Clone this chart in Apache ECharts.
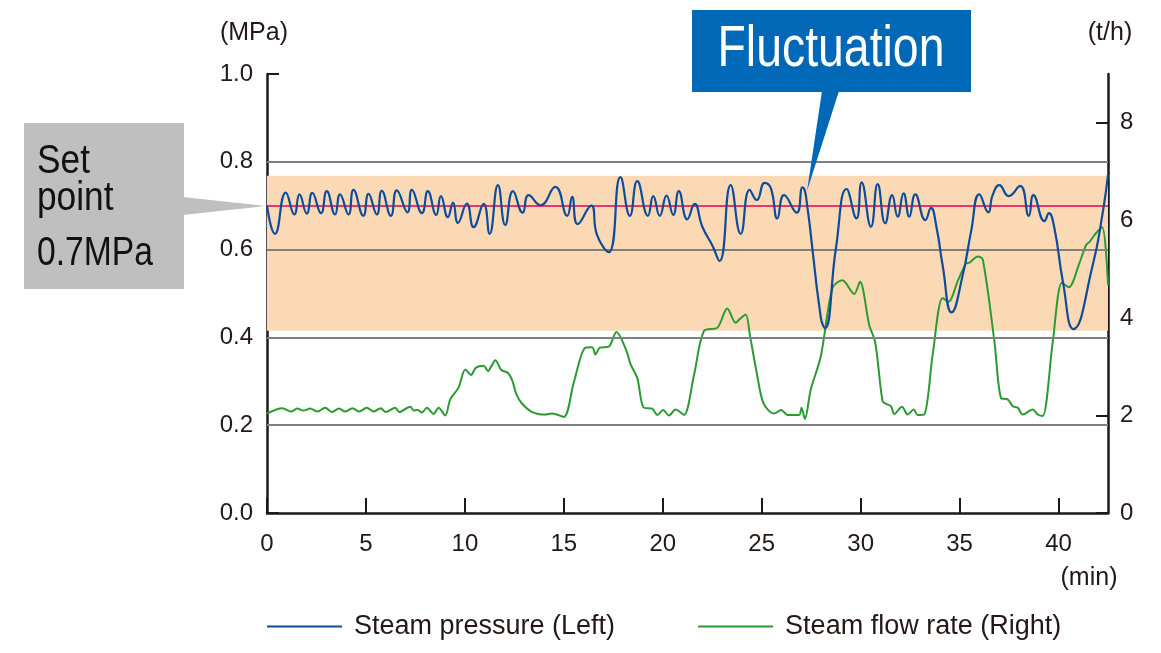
<!DOCTYPE html>
<html>
<head>
<meta charset="utf-8">
<script src="https://cdn.jsdelivr.net/npm/echarts@6/dist/echarts.min.js"></script>
<style>
  html, body { margin: 0; padding: 0; background: #ffffff; }
  #chart { width: 1161px; height: 653px; }
</style>
</head>
<body>
<div id="chart"></div>
<script>
// ---- Data ----
// Steam pressure (MPa, left axis): time (min) and value
const pressureTime = [0,0.40,0.95,1.38,1.64,2.01,2.29,2.73,3.02,3.44,3.69,4.12,4.37,4.87,5.13,5.55,5.80,6.26,6.56,7.10,7.32,7.83,8.13,8.55,8.79,9.14,9.40,9.65,10.10,10.44,10.95,11.25,11.67,12.04,12.43,12.92,13.22,13.82,14.57,15.17,15.42,15.70,16.38,16.68,17.27,17.86,18.34,18.71,19.25,19.52,19.85,20.19,20.53,20.81,21.24,21.61,22.00,22.50,22.87,23.43,23.94,24.39,24.75,25.15,25.46,25.79,26.13,26.77,27.06,27.23,27.99,28.20,28.75,29.29,29.79,30.05,30.52,30.86,31.24,31.59,31.87,32.17,32.46,32.76,33.27,33.55,33.84,34.14,34.60,35.16,35.58,36.00,36.45,36.67,37.01,37.48,38.06,38.50,38.73,39.29,39.51,39.79,40.22,40.75,41.73,42.24,42.50];
const pressureValue = [0.700,0.636,0.730,0.680,0.726,0.682,0.729,0.683,0.733,0.680,0.726,0.680,0.736,0.677,0.727,0.680,0.734,0.677,0.735,0.685,0.736,0.683,0.733,0.679,0.722,0.674,0.707,0.661,0.705,0.651,0.704,0.636,0.747,0.656,0.733,0.684,0.724,0.701,0.743,0.677,0.720,0.658,0.700,0.633,0.594,0.765,0.677,0.756,0.677,0.722,0.677,0.723,0.679,0.733,0.669,0.704,0.652,0.610,0.574,0.747,0.636,0.736,0.713,0.752,0.740,0.671,0.724,0.684,0.742,0.724,0.444,0.421,0.603,0.738,0.671,0.753,0.652,0.749,0.660,0.724,0.675,0.728,0.675,0.726,0.667,0.695,0.649,0.565,0.457,0.542,0.641,0.726,0.685,0.724,0.747,0.722,0.745,0.677,0.724,0.665,0.683,0.649,0.527,0.419,0.565,0.686,0.770];

// Steam flow rate (t/h, right axis): time (min) and value
const flowTime = [0,0.78,1.21,1.53,1.84,2.18,2.56,2.94,3.27,3.64,3.95,4.32,4.66,5.04,5.38,5.75,6.00,6.48,6.68,7.24,7.41,7.62,7.83,8.08,8.42,8.67,9.01,9.26,9.68,10.02,10.31,10.56,10.95,11.17,11.34,11.54,11.84,12.18,12.41,12.58,12.85,13.40,14.07,14.41,15.00,15.50,16.09,16.43,16.60,16.82,17.27,17.66,18.17,18.37,18.71,19.04,19.47,19.72,20.02,20.31,20.65,21.07,21.57,22.08,22.76,23.26,23.68,23.90,24.19,24.41,24.75,25.09,25.62,25.99,26.30,26.89,27.01,27.18,27.48,27.99,28.58,29.08,29.67,29.97,30.43,30.74,31.11,31.31,31.53,31.70,32.09,32.37,32.68,32.88,33.21,33.64,34.14,34.45,34.90,35.32,35.49,35.92,36.17,36.76,37.09,37.43,37.69,37.94,38.19,38.70,38.95,39.20,39.71,40.17,40.52,41.06,41.40,41.57,41.90,42.21,42.50];
const flowValue = [2.04,2.15,2.08,2.14,2.10,2.14,2.08,2.16,2.07,2.14,2.08,2.15,2.08,2.16,2.08,2.15,2.07,2.16,2.07,2.18,2.10,2.11,2.06,2.16,2.03,2.16,2.00,2.33,2.57,2.94,2.83,2.98,3.02,2.91,3.01,3.13,2.93,2.87,2.70,2.46,2.26,2.07,2.02,2.04,1.97,2.67,3.39,3.40,3.25,3.39,3.41,3.71,3.32,3.05,2.77,2.16,2.14,2.01,2.11,2.00,2.12,2.01,2.81,3.73,3.80,4.19,3.90,3.98,4.07,3.63,2.87,2.25,2.04,2.11,2.01,2.01,2.16,1.93,2.53,3.22,4.62,4.77,4.49,4.74,3.86,3.49,2.29,2.23,2.19,2.03,2.18,2.02,2.12,2.01,2.02,3.25,4.41,4.33,4.75,5.11,5.13,5.26,5.20,3.52,2.36,2.33,2.19,2.16,2.02,2.12,2.02,1.99,3.52,4.72,4.63,5.13,5.50,5.56,5.74,5.86,4.68];

const xTicks = [0,5,10,15,20,25,30,35,40];
const leftTicks = [0,0.2,0.4,0.6,0.8,1.0];
const rightTicks = [0,2,4,6,8];
const gridValues = [0.2,0.4,0.6,0.8];
const setPoint = 0.7;
const bandRange = [0.415, 0.768];

const seriesNames = ['Steam pressure (Left)', 'Steam flow rate (Right)'];

// ---- Build chart ----
const pressureData = pressureTime.map((t, i) => [t, pressureValue[i]]);
const flowData = flowTime.map((t, i) => [t, flowValue[i]]);

const txt = '#231815';
const tickFont = '"Liberation Sans", Arial, sans-serif';

const chart = echarts.init(document.getElementById('chart'), null, { renderer: 'canvas' });

const option = {
  animation: false,
  backgroundColor: '#ffffff',
  grid: { left: 267, right: 53, top: 74, bottom: 140, containLabel: false },
  legend: {
    data: seriesNames,
    left: 262,
    top: 608,
    icon: 'rect',
    itemWidth: 75,
    itemHeight: 2,
    itemGap: 83,
    textStyle: { fontFamily: tickFont, fontSize: 27, color: txt, padding: [0, 0, 0, 7] },
    selectedMode: false
  },
  xAxis: {
    type: 'value',
    min: 0,
    max: 42.5,
    interval: 5,
    axisLine: { show: true, lineStyle: { color: '#1a1a1a', width: 2.5 } },
    axisTick: { show: true, inside: true, length: 15, lineStyle: { color: '#1a1a1a', width: 2 }, customValues: xTicks },
    axisLabel: { show: true, fontFamily: tickFont, fontSize: 24, color: txt, margin: 19, customValues: xTicks },
    splitLine: { show: false }
  },
  yAxis: [
    {
      type: 'value',
      min: 0,
      max: 1,
      interval: 0.2,
      position: 'left',
      axisLine: { show: true, lineStyle: { color: '#1a1a1a', width: 2.5 } },
      axisTick: { show: true, inside: true, length: 12, lineStyle: { color: '#1a1a1a', width: 2 }, customValues: leftTicks },
      axisLabel: { show: true, fontFamily: tickFont, fontSize: 24, color: txt, margin: 14,
        customValues: leftTicks, formatter: v => v.toFixed(1) },
      splitLine: { show: false }
    },
    {
      type: 'value',
      min: 0,
      max: 9,
      interval: 1,
      position: 'right',
      axisLine: { show: true, lineStyle: { color: '#1a1a1a', width: 2.5 } },
      axisTick: { show: true, inside: true, length: 12, lineStyle: { color: '#1a1a1a', width: 2 }, customValues: rightTicks },
      axisLabel: { show: true, fontFamily: tickFont, fontSize: 24, color: txt, margin: 12, customValues: rightTicks },
      splitLine: { show: false }
    }
  ],
  series: [
    {
      name: 'band',
      type: 'line',
      data: [],
      yAxisIndex: 0,
      z: 1,
      silent: true,
      markArea: {
        silent: true,
        itemStyle: { color: '#FCD9B5', opacity: 1 },
        data: [[{ yAxis: bandRange[0] }, { yAxis: bandRange[1] }]]
      }
    },
    {
      name: 'gridlines',
      type: 'line',
      data: [],
      yAxisIndex: 0,
      z: 2,
      silent: true,
      markLine: {
        silent: true,
        symbol: 'none',
        label: { show: false },
        lineStyle: { color: '#808080', width: 2, type: 'solid' },
        data: gridValues.map(v => ({ yAxis: v })).concat([
          { yAxis: setPoint, lineStyle: { color: '#E4004F', width: 1.5, type: 'solid' } }
        ])
      }
    },
    {
      name: seriesNames[1],
      type: 'line',
      yAxisIndex: 1,
      data: flowData,
      smooth: 0.3,
      showSymbol: false,
      z: 4,
      lineStyle: { color: '#2B9A33', width: 2 },
      itemStyle: { color: '#2B9A33' }
    },
    {
      name: seriesNames[0],
      type: 'line',
      yAxisIndex: 0,
      data: pressureData,
      smooth: 0.5,
      showSymbol: false,
      z: 5,
      lineStyle: { color: '#0D4C9B', width: 2.2 },
      itemStyle: { color: '#0D4C9B' }
    }
  ],
  graphic: [
    { type: 'rect', shape: { x: 24, y: 123, width: 160, height: 166 }, style: { fill: '#BFBFBF' }, z: 10 },
    { type: 'polygon', shape: { points: [[183, 197], [266, 206], [183, 215]] }, style: { fill: '#BFBFBF' }, z: 10 },
    { type: 'text', x: 37, y: 162, scaleX: 0.86, style: { text: 'Set', font: '41px ' + tickFont, fill: '#111', verticalAlign: 'middle' }, z: 11 },
    { type: 'text', x: 37, y: 199, scaleX: 0.86, style: { text: 'point', font: '41px ' + tickFont, fill: '#111', verticalAlign: 'middle' }, z: 11 },
    { type: 'text', x: 37, y: 254, scaleX: 0.82, style: { text: '0.7MPa', font: '41px ' + tickFont, fill: '#111', verticalAlign: 'middle' }, z: 11 },

    { type: 'rect', shape: { x: 692, y: 10, width: 279, height: 82 }, style: { fill: '#0068B6' }, z: 10 },
    { type: 'polygon', shape: { points: [[822, 91], [839, 91], [807, 191]] }, style: { fill: '#0068B6' }, z: 10 },
    { type: 'text', x: 831, y: 50, scaleX: 0.8, style: { text: 'Fluctuation', font: '58px ' + tickFont, fill: '#ffffff', align: 'center', verticalAlign: 'middle' }, z: 11 },

    { type: 'text', x: 254, y: 33, style: { text: '(MPa)', font: '25px ' + tickFont, fill: txt, align: 'center', verticalAlign: 'middle' }, z: 11 },
    { type: 'text', x: 1110, y: 33, style: { text: '(t/h)', font: '25px ' + tickFont, fill: txt, align: 'center', verticalAlign: 'middle' }, z: 11 },
    { type: 'text', x: 1089, y: 578, style: { text: '(min)', font: '25px ' + tickFont, fill: txt, align: 'center', verticalAlign: 'middle' }, z: 11 }
  ]
};

chart.setOption(option);
</script>
</body>
</html>
